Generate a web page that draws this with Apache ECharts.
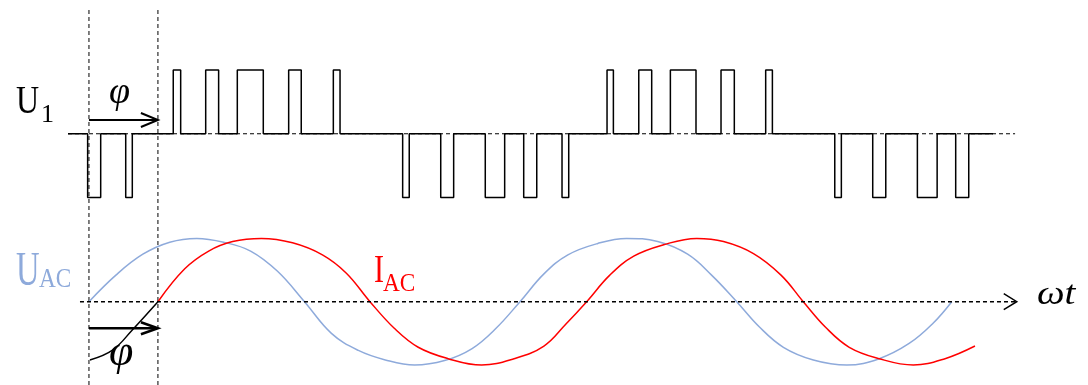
<!DOCTYPE html>
<html><head><meta charset="utf-8">
<script src="https://cdn.jsdelivr.net/npm/echarts@6/dist/echarts.min.js"></script>
<style>html,body{margin:0;padding:0;background:#fff}#c{width:1088px;height:385px}</style>
</head><body><div id="c"></div>
<script>
// ---- data (x in degrees of ωt, y normalised) ----
const phi = 57.6;
const posPulses = [[70.4,76.6],[97.5,108.3],[123.9,145.6],[166.8,177.3],[204.1,209.7],
                   [432.7,438.0],[459.2,470.0],[485.6,507.0],[527.9,539.0],[565.2,570.8]];
const negPulses = [[-1.1,9.8],[30.7,36.2],[262.0,267.5],[293.8,304.6],[331.0,347.2],[363.1,374.0],[395.1,400.7],
                   [622.9,628.4],[654.6,665.5],[691.9,708.4],[723.9,734.8]];
const pwmRange = [-17.5, 755.1];
const u1RefRange = [-17.5, 773.5];
const omegaAxisRange = [-7.5, 774.9];
const guideX = [0, phi];
const uacPoints = [[0,0],[22.5,0.42],[45,0.75],[67.5,0.94],[90,1.0],[112.5,0.94],[135,0.80],[157.5,0.48],
  [180,0],[202.5,-0.50],[225,-0.77],[247.5,-0.92],[272,-1.0],[297,-0.93],[320,-0.74],[340,-0.42],[360,0],
  [380,0.44],[400,0.74],[425,0.92],[449,1.0],[475,0.95],[500,0.75],[520,0.42],[541,0],
  [560,-0.40],[580,-0.72],[605,-0.92],[633,-1.0],[660,-0.90],[685,-0.66],[705,-0.34],[720.6,0]];
const iacPoints = [[57.6,0],[80,0.52],[100,0.80],[120,0.95],[144,1.0],[170,0.93],[195,0.74],[215,0.45],
  [234.7,0],[255,-0.42],[275,-0.72],[300,-0.90],[328,-1.0],[355,-0.90],[380,-0.70],[398,-0.36],[415.7,0],
  [435,0.42],[455,0.72],[480,0.90],[507.6,1.0],[530,0.95],[555,0.76],[578,0.42],[596.6,0],
  [615,-0.40],[635,-0.72],[660,-0.90],[688.5,-1.0],[715,-0.90],[740,-0.70]];
const iacBackPoints = [[0.8,-0.92],[20,-0.76],[36,-0.45],[57.6,0]];
const topArrowY = 0.216, bottomArrowY = -0.42;

// ---- layout ----
const X_MIN = -74.3, X_MAX = 834.4;
const BLUE = '#8eaadb', RED = '#ff0000';

function pwmPath() {
  const pulses = posPulses.map(p => [p[0], p[1], 1])
    .concat(negPulses.map(p => [p[0], p[1], -1]))
    .sort((a, b) => a[0] - b[0]);
  const pts = [[pwmRange[0], 0]];
  pulses.forEach(([s, e, v]) => { pts.push([s, 0], [s, v], [e, v], [e, 0]); });
  pts.push([pwmRange[1], 0]);
  return pts;
}

function arrowSeries(xi, items, opt) {
  return {
    type: 'custom', xAxisIndex: xi, yAxisIndex: xi, silent: true, clip: false, z: 5,
    encode: { x: [0, 1], y: 2 },
    data: items,
    renderItem(params, api) {
      const a = api.coord([api.value(0), api.value(2)]);
      const b = api.coord([api.value(1), api.value(2)]);
      return { type: 'group', children: [
        { type: 'line', shape: { x1: a[0], y1: a[1], x2: b[0] - 1, y2: b[1] },
          style: { stroke: '#000', lineWidth: opt.lw, lineDash: opt.dash || null } },
        { type: 'polyline', shape: { points: [[b[0] - opt.hl, b[1] - opt.hw], [b[0], b[1]], [b[0] - opt.hl, b[1] + opt.hw]] },
          style: { stroke: '#000', fill: null, lineWidth: opt.hlw || opt.lw } }
      ]};
    }
  };
}

const chart = echarts.init(document.getElementById('c'), null, { renderer: 'canvas' });
const xAx = i => ({ type: 'value', gridIndex: i, min: X_MIN, max: X_MAX, show: false });
chart.setOption({
  animation: false,
  backgroundColor: '#fff',
  grid: [
    { left: 0, right: 0, top: 38.125, height: 191.25, outerBoundsMode: 'none' },
    { left: 0, right: 0, top: 206.75, height: 170.91, outerBoundsMode: 'none' },
    { left: 0, right: 0, top: 7, bottom: 0, outerBoundsMode: 'none' }
  ],
  xAxis: [xAx(0), xAx(1), xAx(2)],
  yAxis: [
    { type: 'value', gridIndex: 0, min: -1.5, max: 1.5, show: false },
    { type: 'value', gridIndex: 1, min: -1.2, max: 1.5, show: false },
    { type: 'value', gridIndex: 2, min: 0, max: 1, show: false }
  ],
  series: [
    { type: 'line', xAxisIndex: 2, yAxisIndex: 2, data: [[guideX[0], 0], [guideX[0], 1], null, [guideX[1], 0], [guideX[1], 1]],
      connectNulls: false, showSymbol: false, silent: true, clip: false,
      lineStyle: { color: '#000', width: 1, type: [4, 3] } },
    { type: 'line', xAxisIndex: 0, yAxisIndex: 0, data: [[u1RefRange[0], 0], [u1RefRange[1], 0]],
      showSymbol: false, silent: true, clip: false, lineStyle: { color: '#000', width: 1, type: [4, 3] } },
    { type: 'line', xAxisIndex: 0, yAxisIndex: 0, data: pwmPath(), showSymbol: false, silent: true, clip: false,
      lineStyle: { color: '#000', width: 1.5 } },
    arrowSeries(0, [[0, phi, topArrowY]], { lw: 2, hl: 17, hw: 7 }),
    arrowSeries(1, [[omegaAxisRange[0], omegaAxisRange[1], 0]], { lw: 1.5, hl: 13, hw: 8, dash: [4, 3], hlw: 1.5 }),
    { type: 'line', xAxisIndex: 1, yAxisIndex: 1, data: uacPoints, smooth: 0.4, showSymbol: false, silent: true, clip: false,
      lineStyle: { color: BLUE, width: 1.5 } },
    { type: 'line', xAxisIndex: 1, yAxisIndex: 1, data: iacPoints, smooth: 0.4, showSymbol: false, silent: true, clip: false,
      lineStyle: { color: RED, width: 1.5 } },
    { type: 'line', xAxisIndex: 1, yAxisIndex: 1, data: iacBackPoints, smooth: 0.4, showSymbol: false, silent: true, clip: false,
      lineStyle: { color: '#000', width: 1.5 } },
    arrowSeries(1, [[0, phi, bottomArrowY]], { lw: 2.5, hl: 17, hw: 6 })
  ]
});

// ---- text labels ----
const SERIF = '"Liberation Serif", "DejaVu Serif", serif';
function txt(text, left, baseline, size, color, sx, italic) {
  return { type: 'text', x: left, y: baseline - 0.305 * size, scaleX: sx, z: 10, silent: true,
    style: { text, x: 0, y: 0, fill: color, font: (italic ? 'italic ' : '') + size + 'px ' + SERIF,
      align: 'left', verticalAlign: 'middle', textAlign: 'left', textVerticalAlign: 'middle' } };
}
chart.setOption({ graphic: [
  txt('U', 16, 115, 40, '#000', 0.8),
  txt('1', 41, 123, 26, '#000', 1),
  txt('φ', 109, 105, 38, '#000', 1, true),
  txt('U', 16, 287, 48, BLUE, 0.68),
  txt('AC', 39, 288, 27, BLUE, 0.86),
  txt('I', 374, 283.5, 40, RED, 0.75),
  txt('AC', 383, 292, 25, RED, 0.93),
  txt('ωt', 1037, 305, 34, '#000', 1.15, true),
  txt('φ', 109, 367, 44, '#000', 1, true)
]});
</script></body></html>
